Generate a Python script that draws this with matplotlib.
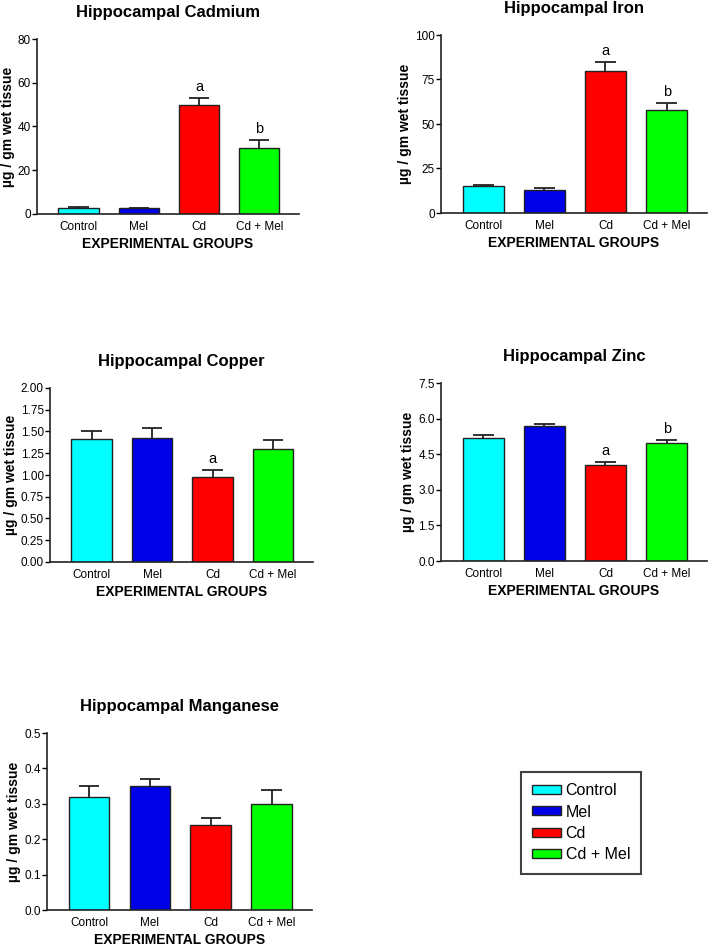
import matplotlib
matplotlib.use('Agg')
import matplotlib.pyplot as plt
from matplotlib.patches import Patch

plt.rcParams['font.family'] = ['Liberation Sans', 'DejaVu Sans']

groups = ['Control', 'Mel', 'Cd', 'Cd + Mel']
colors = ['#00FFFF', '#0000E6', '#FF0000', '#00FF00']

cadmium = [2.9, 2.6, 49.8, 30.1]
cadmium_err = [0.2, 0.3, 3.2, 3.8]
iron = [15.0, 12.9, 79.8, 57.8]
iron_err = [0.9, 0.9, 5.1, 4.1]
copper = [1.41, 1.42, 0.98, 1.30]
copper_err = [0.10, 0.12, 0.08, 0.10]
zinc = [5.18, 5.67, 4.03, 4.99]
zinc_err = [0.11, 0.10, 0.13, 0.09]
manganese = [0.32, 0.35, 0.24, 0.30]
manganese_err = [0.03, 0.02, 0.02, 0.04]

cadmium_sig = ['', '', 'a', 'b']
iron_sig = ['', '', 'a', 'b']
copper_sig = ['', '', 'a', '']
zinc_sig = ['', '', 'a', 'b']
manganese_sig = ['', '', '', '']

W, H = 708, 947
fig = plt.figure(figsize=(W / 100, H / 100), dpi=100)


def panel(px, title, vals, errs, sig, ylim, yticks, fmt):
    l, r, t, b = px
    ax = fig.add_axes([l / W, 1 - b / H, (r - l) / W, (b - t) / H])
    x = list(range(len(groups)))
    tops = [v + e for v, e in zip(vals, errs)]
    ax.bar(x, vals, width=0.67, color=colors, edgecolor='#222222', linewidth=1, zorder=2)
    # upper error bars only, with caps
    ax.vlines(x, vals, tops, color='#222222', linewidth=1.3, zorder=1)
    ax.hlines(tops, [i - 0.17 for i in x], [i + 0.17 for i in x], color='#222222',
              linewidth=1.3, zorder=1)
    for i, s in enumerate(sig):
        if s:
            ax.annotate(s, (i, tops[i]), xytext=(0, 5), textcoords='offset points',
                        ha='center', va='baseline', fontsize=10.5)
    ax.set_xlim(-0.69, 3.66)
    ax.set_ylim(*ylim)
    ax.set_yticks(yticks)
    ax.set_yticklabels([fmt.format(v) for v in yticks])
    ax.set_xticks(x)
    ax.set_xticklabels(groups)
    ax.tick_params(axis='x', length=0, labelsize=8.5, pad=5)
    ax.tick_params(axis='y', length=3.5, width=1, labelsize=8.5, pad=1, direction='out')
    for s in ['top', 'right']:
        ax.spines[s].set_visible(False)
    for s in ['left', 'bottom']:
        ax.spines[s].set_linewidth(1.2)
        ax.spines[s].set_color('#222222')
    ax.set_title(title, fontsize=12, fontweight='bold', pad=16)
    ax.set_xlabel('EXPERIMENTAL GROUPS', fontsize=10, fontweight='bold', labelpad=3)
    ax.set_ylabel('µg / gm wet tissue', fontsize=10, fontweight='bold', labelpad=2)
    return ax


panel((37, 299, 39, 214), 'Hippocampal Cadmium', cadmium, cadmium_err, cadmium_sig,
      (0, 80), [0, 20, 40, 60, 80], '{:.0f}')
panel((441, 707, 35, 213), 'Hippocampal Iron', iron, iron_err, iron_sig,
      (0, 100), [0, 25, 50, 75, 100], '{:.0f}')
panel((50, 313, 388, 562), 'Hippocampal Copper', copper, copper_err, copper_sig,
      (0, 2.0), [0, 0.25, 0.5, 0.75, 1.0, 1.25, 1.5, 1.75, 2.0], '{:.2f}')
panel((441, 707, 383, 561), 'Hippocampal Zinc', zinc, zinc_err, zinc_sig,
      (0, 7.5), [0, 1.5, 3.0, 4.5, 6.0, 7.5], '{:.1f}')
panel((47, 312, 733, 910), 'Hippocampal Manganese', manganese, manganese_err, manganese_sig,
      (0, 0.5), [0, 0.1, 0.2, 0.3, 0.4, 0.5], '{:.1f}')

handles = [Patch(facecolor=c, edgecolor='#222222', linewidth=1) for c in colors]
leg = fig.legend(handles, groups, loc='upper left', bbox_to_anchor=(521 / W, 1 - 772 / H),
                 fontsize=11.5, frameon=True, fancybox=False, handlelength=1.8,
                 handleheight=0.5, handletextpad=0.3, labelspacing=0.4,
                 borderpad=0.7, borderaxespad=0)
leg.get_frame().set_edgecolor('#111111')
leg.get_frame().set_linewidth(1.5)

fig.savefig('out.png', dpi=100)
